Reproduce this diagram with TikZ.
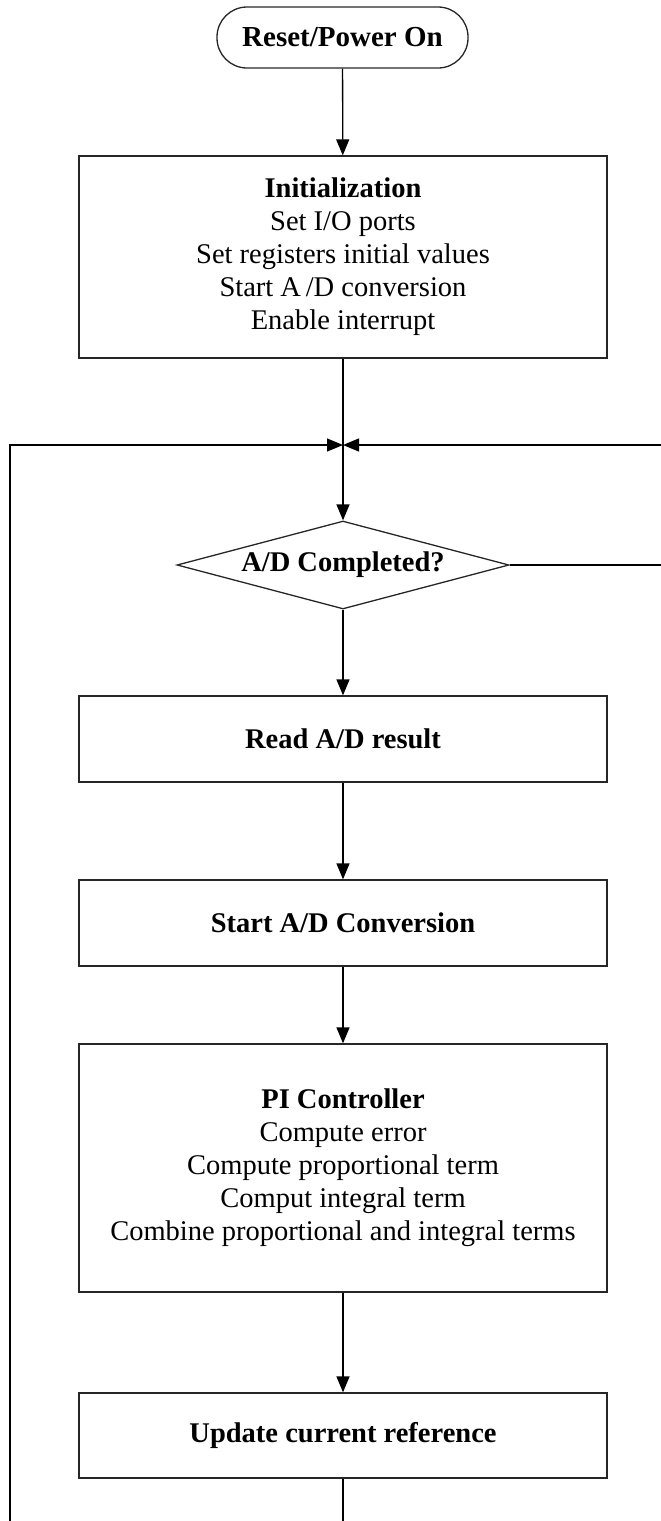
\documentclass[tikz,border=0pt]{standalone}
\usepackage{fontspec}
\setmainfont{Liberation Serif}
\usetikzlibrary{arrows.meta,shapes.geometric}
\tikzset{>/.tip={Triangle[length=16pt,width=13pt]},
  termbox/.style={draw=black!85, rectangle, rounded corners=30pt, minimum width=251pt, minimum height=61pt, font=\fontsize{29}{32}\selectfont},
  stepbox/.style={draw=black!85, rectangle, minimum width=528pt, inner sep=0pt, align=center, font=\fontsize{28.5}{33}\selectfont},
  decbox/.style={draw=black!85, diamond, aspect=3.77, inner sep=0pt, minimum width=332pt, minimum height=88pt, font=\fontsize{28.5}{33}\selectfont}}

\begin{document}
\begin{tikzpicture}[x=1pt,y=-1pt,line width=1.3pt]
\useasboundingbox (0,0) rectangle (661,1521);
\node[termbox] (reset) at (342.5,37.5) {\textbf{Reset/Power On}};
\node[stepbox, minimum height=202pt] (init) at (343,257) {\textbf{Initialization}\\Set I/O ports\\Set registers initial values\\Start A\,/D conversion\\Enable interrupt};
\coordinate (join) at (343,445);
\node[decbox] (done) at (343,565) {\textbf{A/D Completed?}};
\node[stepbox, minimum height=86pt] (read) at (343,739) {\textbf{Read A/D result}};
\node[stepbox, minimum height=86pt] (conv) at (343,923) {\textbf{Start A/D Conversion}};
\node[stepbox, minimum height=248pt] (pi) at (343,1168) {\textbf{PI Controller}\\Compute error\\Compute proportional term\\Comput integral term\\Combine proportional and integral terms};
\node[stepbox, minimum height=85pt] (upd) at (343,1435.5) {\textbf{Update current reference}};
\coordinate (loopL) at (10,1526);
\coordinate (loopR) at (665,565);

\path[->] (reset) edge (init);
\draw (init) -- (join);
\path[->] (join) edge (done);
\path[->] (done) edge (read);
\path[->] (read) edge (conv);
\path[->] (conv) edge (pi);
\path[->] (pi) edge (upd);
\draw[->] (upd.south) |- (loopL) |- (join);
\draw[->] (done.east) -- (loopR) |- (join);
\end{tikzpicture}
\end{document}
